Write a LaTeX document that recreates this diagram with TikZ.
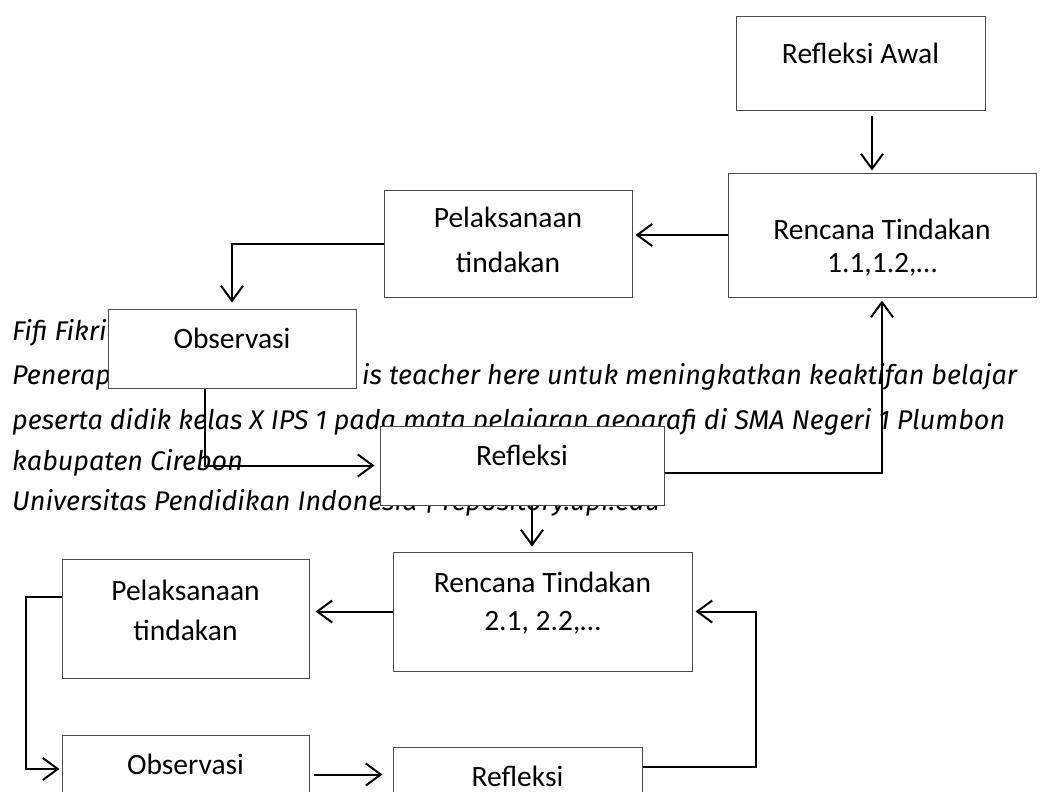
\documentclass[tikz,border=0pt]{standalone}
\usepackage{fontspec}
\setmainfont{Carlito}
\newfontfamily\handfont{Fira Sans}
\usetikzlibrary{arrows.meta, positioning}
\tikzset{
  every picture/.style={x=1pt, y=-1pt},
  blok/.style={draw=black!70, line width=1pt, fill=white, inner sep=0pt,
    font=\fontsize{29.5}{33}\selectfont, text height=20pt, text depth=#1},
  blok/.default=20pt,
  arrow/.style={-{Straight Barb[length=15pt, width=22pt]}, line width=2pt},
  foot/.style={font=\handfont\itshape\fontsize{27}{32}\selectfont, anchor=base west, inner sep=0pt},
}
\newcommand{\duabaris}[3][0pt]{\begin{tabular}[t]{@{}c@{}}#2\\[#1]#3\end{tabular}}

\begin{document}
\begin{tikzpicture}
  \fill[white] (0,0) rectangle (1044,792);
  \useasboundingbox (0,0) rectangle (1044,792);
  \clip (0,0) rectangle (1044,792);
  % teks kaki halaman (di belakang kotak)
  \node[foot] (f1) at (12,340) {Fifi Fikri};
  \node[foot] (f2) at (12,384) {Penerap};
  \node[foot] (f3) at (362,384) {is teacher here untuk meningkatkan keaktifan belajar};
  \node[foot] (f4) at (12,429) {peserta didik kelas X IPS 1 pada mata pelajaran geografi di SMA Negeri 1 Plumbon};
  \node[foot] (f5) at (12,470) {kabupaten Cirebon};
  \node[foot] (f6) at (12,510) {Universitas Pendidikan Indonesia | repository.upi.edu};
  % siklus 1
  \node[blok, minimum width=249pt, minimum height=93pt] (awal) at (860.5,63.5) {Refleksi Awal};
  \node[blok=11pt, minimum width=308pt, minimum height=124pt] (ren1) at (882,235) {\duabaris{Rencana Tindakan}{1.1,1.2,…}};
  \node[blok=53pt, minimum width=248pt, minimum height=107pt] (pel1) at (508,243.5) {\duabaris[12pt]{Pelaksanaan}{tindakan}};
  \node[blok, minimum width=248pt, minimum height=79pt] (obs1) at (232,348.5) {Observasi};
  \node[blok, minimum width=284pt, minimum height=79pt] (ref1) at (522,465.5) {Refleksi};
  % siklus 2
  \node[blok=58pt, minimum width=299pt, minimum height=119pt] (ren2) at (542.5,611.5) {\duabaris[5pt]{Rencana Tindakan}{2.1, 2.2,…}};
  \node[blok=56pt, minimum width=247pt, minimum height=119pt] (pel2) at (185.5,618.5) {\duabaris[7pt]{Pelaksanaan}{tindakan}};
  \node[blok, minimum width=247pt, minimum height=79pt] (obs2) at (185.5,774.5) {Observasi};
  \node[blok, minimum width=249pt, minimum height=79pt] (ref2) at (517.5,786.5) {Refleksi};
  % panah
  \draw[arrow, shorten <=5pt, shorten >=2pt] ([xshift=11.5pt]awal.south) -- ([xshift=-10pt]ren1.north);
  \draw[arrow, shorten >=3pt] (ren1.west) -- (ren1.west -| pel1.east);
  \draw[arrow, shorten >=6pt] (pel1.west) -| (obs1.north);
  \draw[arrow, shorten >=5pt] ([xshift=-27pt]obs1.south) |- (ref1.west);
  \draw[arrow, shorten >=3pt] ([yshift=-7.5pt]ref1.east) -| (ren1.south);
  \draw[arrow, shorten >=5pt] ([xshift=10pt]ref1.south) -- ([xshift=10pt]ref1.south |- ren2.north);
  \draw[arrow, shorten >=6pt] (ren2.west) -- (ren2.west -| pel2.east);
  \draw[arrow, shorten >=2pt] ([yshift=21.5pt]pel2.west) -- ++(-36,0) |- ([yshift=5.5pt]obs2.west);
  \draw[arrow, shorten <=4pt, shorten >=10pt] (obs2.east) -- (obs2.east -| ref2.west);
  \draw[arrow, shorten >=3pt] ([yshift=19.5pt]ref2.east) -- ++(113,0) |- (ren2.east);
\end{tikzpicture}
\end{document}
